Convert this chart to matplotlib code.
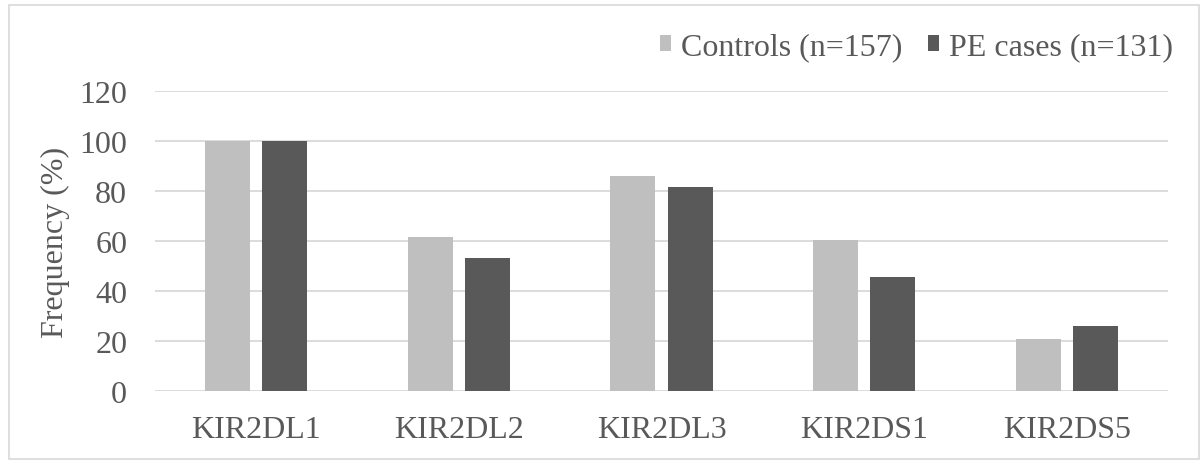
import matplotlib
matplotlib.use("Agg")
import matplotlib.pyplot as plt
import numpy as np
from matplotlib.patches import Rectangle

plt.rcParams["font.family"] = ["Liberation Serif", "DejaVu Serif"]

GENES = ["KIR2DL1", "KIR2DL2", "KIR2DL3", "KIR2DS1", "KIR2DS5"]
CONTROLS = [100, 61.8, 86.0, 60.5, 21.0]
PE_CASES = [100, 53.4, 81.7, 45.8, 26.0]
Y_TICKS = [0, 20, 40, 60, 80, 100, 120]

TEXT_COLOR = "#595959"
GRID_COLOR = "#D9D9D9"
FONT_SIZE = 23


def main():
    fig = plt.figure(figsize=(12, 4.64), dpi=100)
    ax = fig.add_axes([155 / 1200, 1 - 392 / 464, 1013 / 1200, 300 / 464])

    x = np.arange(len(GENES))
    width = 0.222
    offset = 0.141
    ax.bar(x - offset, CONTROLS, width, color="#BFBFBF", label="Controls (n=157)", zorder=3)
    ax.bar(x + offset, PE_CASES, width, color="#595959", label="PE cases (n=131)", zorder=3)

    ax.set_xlim(-0.5, len(GENES) - 0.5)
    ax.set_ylim(0, 120)
    ax.set_yticks(Y_TICKS)
    ax.set_xticks(x)
    ax.set_xticklabels(GENES)
    ax.tick_params(axis="both", length=0, labelsize=FONT_SIZE, colors=TEXT_COLOR)
    ax.tick_params(axis="y", pad=20)
    ax.tick_params(axis="x", pad=17)
    ax.grid(axis="y", color=GRID_COLOR, linewidth=1.3, zorder=0)
    for spine in ax.spines.values():
        spine.set_visible(False)

    fig.text(55 / 1200, 1 - 242 / 464, "Frequency (%)", rotation=90, ha="center", va="center",
             fontsize=FONT_SIZE, color=TEXT_COLOR)

    leg = ax.legend(loc="center right", bbox_to_anchor=(1173 / 1200, 1 - 48 / 464),
                    bbox_transform=fig.transFigure, ncol=2, frameon=False, fontsize=FONT_SIZE,
                    handlelength=0.36, handleheight=0.36, handletextpad=0.3,
                    columnspacing=0.8, borderaxespad=0, borderpad=0)
    for t in leg.get_texts():
        t.set_color(TEXT_COLOR)

    fig.patches.append(Rectangle((9 / 1200, 1 - 460 / 464), 1190 / 1200, 454 / 464,
                                 transform=fig.transFigure, fill=False,
                                 edgecolor=GRID_COLOR, linewidth=1.2))

    fig.savefig("out.png", dpi=100)
    plt.close(fig)


if __name__ == "__main__":
    main()
